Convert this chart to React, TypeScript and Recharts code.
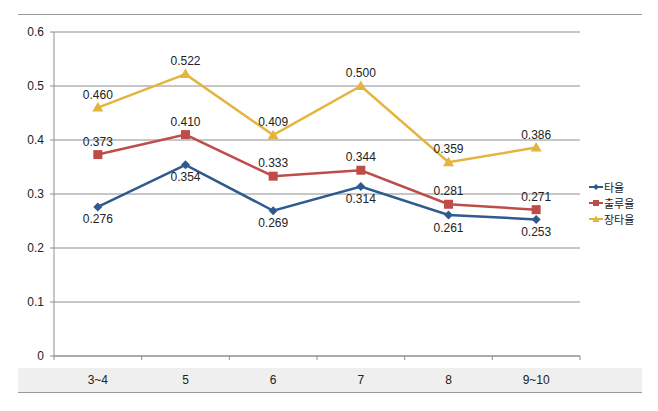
import React from "react";
import {
  LineChart,
  Line,
  XAxis,
  YAxis,
  CartesianGrid,
  LabelList,
} from "recharts";

const categories = ["3~4", "5", "6", "7", "8", "9~10"];
const battingAvg = [0.276, 0.354, 0.269, 0.314, 0.261, 0.253];
const onBasePct = [0.373, 0.41, 0.333, 0.344, 0.281, 0.271];
const sluggingPct = [0.46, 0.522, 0.409, 0.5, 0.359, 0.386];
const yTicks = [0, 0.1, 0.2, 0.3, 0.4, 0.5, 0.6];
const seriesNames = ["타율", "출루율", "장타율"];

const W = 658;
const H = 411;
const PLOT_LEFT = 54;
const PLOT_RIGHT = 580;
const BAND = (PLOT_RIGHT - PLOT_LEFT) / categories.length;

const BLUE = "#2E5A8E";
const RED = "#BE4D4A";
const GOLD = "#E4B43C";
const GRID = "#8E8E8E";
const NUM_FONT = "'Liberation Sans', Arial, sans-serif";
const KR_FONT = "'Noto Sans CJK KR', sans-serif";

const data = categories.map((name, i) => ({
  name,
  avg: battingAvg[i],
  obp: onBasePct[i],
  slg: sluggingPct[i],
}));

const fmt = (v: number) => v.toFixed(3);

function XTick(props: any) {
  const { x, y, payload, index } = props;
  const last = index === categories.length - 1;
  return (
    <g>
      <line x1={x - BAND / 2} y1={y} x2={x - BAND / 2} y2={y + 4} stroke={GRID} />
      {last && <line x1={x + BAND / 2} y1={y} x2={x + BAND / 2} y2={y + 4} stroke={GRID} />}
      <text x={x} y={y + 28} textAnchor="middle" fontSize={12} fontFamily={NUM_FONT} fill="#222">
        {payload.value}
      </text>
    </g>
  );
}

const diamondDot = (p: any) => (
  <polygon
    key={`d-${p.index}`}
    points={`${p.cx},${p.cy - 4.5} ${p.cx + 4.5},${p.cy} ${p.cx},${p.cy + 4.5} ${p.cx - 4.5},${p.cy}`}
    fill={BLUE}
  />
);
const squareDot = (p: any) => (
  <rect key={`s-${p.index}`} x={p.cx - 4.5} y={p.cy - 4.5} width={9} height={9} fill={RED} />
);
const triangleDot = (p: any) => (
  <polygon
    key={`t-${p.index}`}
    points={`${p.cx},${p.cy - 5.5} ${p.cx + 5.5},${p.cy + 4} ${p.cx - 5.5},${p.cy + 4}`}
    fill={GOLD}
  />
);

const legendColors = [BLUE, RED, GOLD];

function ChartLegend() {
  return (
    <div
      style={{
        position: "absolute",
        left: 589,
        top: 179,
        fontFamily: KR_FONT,
        fontSize: 11,
        color: "#222",
        lineHeight: "16px",
      }}
    >
      {seriesNames.map((n, i) => (
        <div key={n} style={{ display: "flex", alignItems: "center" }}>
          <svg width={14} height={10} style={{ marginRight: 1 }}>
            <line x1={0} y1={5} x2={14} y2={5} stroke={legendColors[i]} strokeWidth={2} />
            {i === 0 && <polygon points="7,2 10,5 7,8 4,5" fill={BLUE} />}
            {i === 1 && <rect x={4} y={2} width={6} height={6} fill={RED} />}
            {i === 2 && <polygon points="7,1.5 10.5,8 3.5,8" fill={GOLD} />}
          </svg>
          <span>{n}</span>
        </div>
      ))}
    </div>
  );
}

export default function App() {
  return (
    <div style={{ position: "absolute", left: 0, top: 0, width: W, height: H, background: "#fff" }}>
      <div style={{ position: "absolute", left: 18, top: 14, width: 624, height: 1, background: "#9a9a9a" }} />
      <div style={{ position: "absolute", left: 18, top: 368, width: 624, height: 24, background: "#efefef" }} />
      <div style={{ position: "absolute", left: 18, top: 392, width: 624, height: 1, background: "#9a9a9a" }} />
      <div style={{ position: "absolute", left: 0, top: 0 }}>
        <LineChart width={W} height={H} data={data} margin={{ top: 32, right: W - PLOT_RIGHT, left: 0, bottom: 25 }}>
          <CartesianGrid vertical={false} stroke={GRID} strokeWidth={1} />
          <XAxis
            dataKey="name"
            scale="band"
            height={30}
            tickSize={0}
            tickMargin={0}
            tickLine={false}
            axisLine={{ stroke: GRID }}
            tick={<XTick />}
            interval={0}
          />
          <YAxis
            width={54}
            domain={[0, 0.6]}
            ticks={yTicks}
            tickSize={4}
            tickMargin={6}
            axisLine={{ stroke: GRID }}
            tickLine={{ stroke: GRID }}
            tick={{ fontSize: 12, fontFamily: NUM_FONT, fill: "#222" }}
          />
          <Line name={seriesNames[0]} dataKey="avg" stroke={BLUE} strokeWidth={2.5} dot={diamondDot} isAnimationActive={false}>
            <LabelList dataKey="avg" position="bottom" offset={8} formatter={fmt} fontSize={12} fontFamily={NUM_FONT} fill="#222" />
          </Line>
          <Line name={seriesNames[1]} dataKey="obp" stroke={RED} strokeWidth={2.5} dot={squareDot} isAnimationActive={false}>
            <LabelList dataKey="obp" position="top" offset={9} formatter={fmt} fontSize={12} fontFamily={NUM_FONT} fill="#222" />
          </Line>
          <Line name={seriesNames[2]} dataKey="slg" stroke={GOLD} strokeWidth={2.5} dot={triangleDot} isAnimationActive={false}>
            <LabelList dataKey="slg" position="top" offset={9} formatter={fmt} fontSize={12} fontFamily={NUM_FONT} fill="#222" />
          </Line>
        </LineChart>
      </div>
      <ChartLegend />
    </div>
  );
}
